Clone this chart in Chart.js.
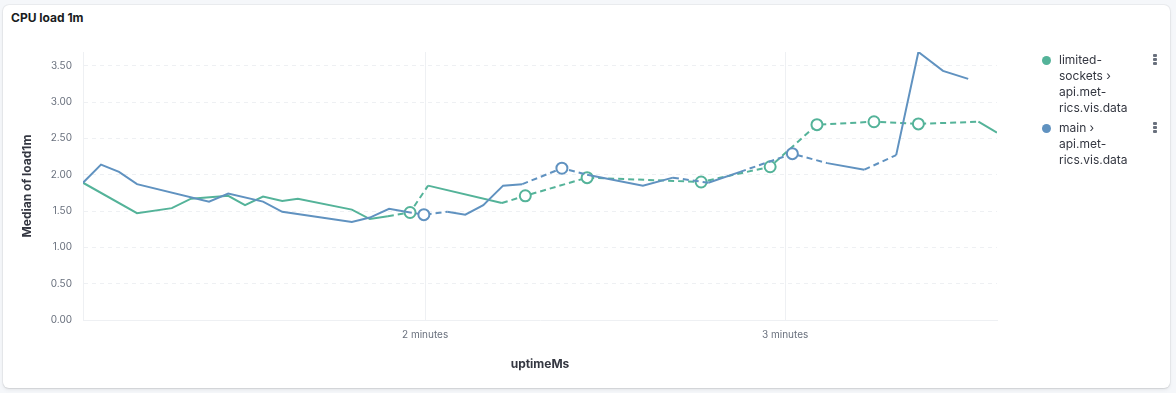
<!DOCTYPE html>
<html>
<head>
<meta charset="utf-8">
<title>CPU load 1m</title>
<script src="https://cdn.jsdelivr.net/npm/chart.js@4.4.0/dist/chart.umd.min.js"></script>
<style>
  html, body { margin: 0; padding: 0; }
  body {
    width: 1176px; height: 393px; overflow: hidden; position: relative;
    background: #f5f7fa; font-family: Inter, "Noto Sans", sans-serif;
  }
  .panel {
    position: absolute; left: 3px; top: 5px; width: 1167px; height: 383px;
    background: #fff; border-radius: 6px;
    box-shadow: 0 0.8px 1.5px rgba(0,0,0,.08), 0 2px 4px rgba(0,0,0,.06), 0 0 0 1px rgba(0,0,0,.03);
  }
  .title { position: absolute; left: 11px; top: 10px; font-size: 12px; font-weight: 700; color: #1a1c21; }
  #chart { position: absolute; left: 0; top: 0; }
  .item { position: absolute; left: 1042px; font-size: 12px; line-height: 16px; color: #343741; }
  .item .dot { position: absolute; left: 0; top: 4px; width: 9px; height: 9px; border-radius: 50%; }
  .item .txt { position: absolute; left: 17px; top: 0; width: 90px; }
  .menu { position: absolute; left: 1153px; width: 4px; }
  .menu i { display: block; width: 4px; height: 3px; margin-bottom: 1px; border-radius: 1px; background: #69707d; }
</style>
</head>
<body>
<div class="panel"></div>
<div class="title">CPU load 1m</div>
<canvas id="chart" width="1176" height="393"></canvas>

<div class="item" style="top:52px">
  <span class="dot" style="background:#54b399"></span>
  <div class="txt">limited-<br>sockets ›<br>api.met-<br>rics.vis.data</div>
</div>
<div class="menu" style="top:54px"><i></i><i></i><i></i></div>
<div class="item" style="top:120px">
  <span class="dot" style="background:#6092c0"></span>
  <div class="txt">main ›<br>api.met-<br>rics.vis.data</div>
</div>
<div class="menu" style="top:122px"><i></i><i></i><i></i></div>

<script>
// axis ticks
const xTickValues = [120000, 180000];
const xTickLabels = ['2 minutes', '3 minutes'];
const yTickValues = [0, 0.5, 1, 1.5, 2, 2.5, 3, 3.5];

// uptime in ms and median load; null = empty bucket (bridged by a dashed line)
const limitedMs = [63000, 72000, 77800, 81000, 87200, 90000, 93000, 96200, 98800, 107800, 110800, 113800,
  null, 117500, null, 120500, 132800, null, 136700, null, 147000, null, 166000, null, 177500,
  null, 185300, null, 194800, null, 202200, null, 212200, 215300];
const limitedLoad = [1.89, 1.47, 1.54, 1.67, 1.71, 1.58, 1.70, 1.64, 1.67, 1.52, 1.39, 1.43,
  null, 1.48, null, 1.85, 1.61, null, 1.71, null, 1.96, null, 1.90, null, 2.11,
  null, 2.69, null, 2.73, null, 2.70, null, 2.73, 2.58];

const mainMs = [63000, 66000, 69000, 72000, 84000, 87200, 93000, 96200, 107800, 110800, 114000, 116800,
  null, 119800, null, 123700, 126700, 129700, 133000, 136200, null, 142800, null,
  147000, 156300, 161300, null, 167200, 172500, null, 181200, null, 187000, 193200,
  null, 198500, 202200, 206300, 210500];
const mainLoad = [1.89, 2.14, 2.04, 1.87, 1.63, 1.74, 1.63, 1.49, 1.35, 1.41, 1.53, 1.49,
  null, 1.45, null, 1.49, 1.45, 1.58, 1.85, 1.87, null, 2.09, null,
  2.00, 1.85, 1.96, null, 1.89, 2.04, null, 2.29, null, 2.16, 2.07,
  null, 2.27, 3.69, 3.43, 3.32];

const GREEN = '#54b399';
const BLUE = '#6092c0';
const GRID = '#eef0f3';

function toPoints(ms, load) {
  return ms.map(function (x, i) { return { x: x, y: load[i] }; });
}

// a point with empty buckets on both sides gets a hollow circle
function isolated(ctx) {
  if (ctx.dataIndex === undefined) return false;
  var d = ctx.dataset.data, i = ctx.dataIndex;
  if (d[i].y === null) return false;
  var prevGap = i === 0 || d[i - 1].y === null;
  var nextGap = i === d.length - 1 || d[i + 1].y === null;
  return prevGap && nextGap;
}

function series(label, ms, load, color, order) {
  return {
    label: label,
    data: toPoints(ms, load),
    order: order,
    borderColor: color,
    borderWidth: 2,
    tension: 0,
    spanGaps: true,
    pointRadius: function (ctx) { return isolated(ctx) ? 5.5 : 0; },
    pointBorderWidth: 2,
    pointBorderColor: color,
    pointBackgroundColor: '#fff',
    pointHoverRadius: 0,
    segment: {
      borderDash: function (ctx) { return ctx.p0.skip || ctx.p1.skip ? [6, 4] : undefined; }
    }
  };
}

const allX = limitedMs.concat(mainMs).filter(function (v) { return v !== null; });
const allY = limitedLoad.concat(mainLoad).filter(function (v) { return v !== null; });

Chart.defaults.font.family = 'Inter';

new Chart(document.getElementById('chart').getContext('2d'), {
  type: 'line',
  data: {
    datasets: [
      series('limited-sockets › api.metrics.vis.data', limitedMs, limitedLoad, GREEN, 1),
      series('main › api.metrics.vis.data', mainMs, mainLoad, BLUE, 0)
    ]
  },
  options: {
    responsive: false,
    animation: false,
    devicePixelRatio: 1,
    layout: { padding: { left: 0, top: 52, right: 179, bottom: 0 } },
    plugins: { legend: { display: false }, tooltip: { enabled: false } },
    events: [],
    scales: {
      x: {
        type: 'linear',
        min: Math.min.apply(null, allX),
        max: Math.max.apply(null, allX),
        afterBuildTicks: function (scale) {
          scale.ticks = xTickValues.map(function (v) { return { value: v }; });
        },
        afterFit: function (scale) { scale.height = 73; },
        grid: { color: GRID, drawTicks: false, lineWidth: 1 },
        border: { display: true, color: GRID },
        ticks: {
          padding: 9,
          color: '#69707d',
          font: { size: 10 },
          maxRotation: 0,
          callback: function (v) { return xTickLabels[xTickValues.indexOf(v)]; }
        },
        title: {
          display: true,
          text: 'uptimeMs',
          color: '#343741',
          font: { size: 12, weight: 'bold' },
          padding: { top: 0, bottom: 21 }
        }
      },
      y: {
        min: 0,
        max: Math.max.apply(null, allY),
        afterBuildTicks: function (scale) {
          scale.ticks = yTickValues.map(function (v) { return { value: v }; });
        },
        afterFit: function (scale) { scale.width = 83; },
        grid: {
          drawTicks: false,
          color: function (ctx) { return ctx.tick && ctx.tick.value === 0 ? 'rgba(0,0,0,0)' : GRID; }
        },
        border: { display: true, color: GRID, dash: [4, 4] },
        ticks: {
          padding: 11,
          color: '#69707d',
          font: { size: 10 },
          callback: function (v) { return v.toFixed(2); }
        },
        title: {
          display: true,
          text: 'Median of load1m',
          color: '#343741',
          font: { size: 12, weight: 'bold' },
          padding: { top: 20, bottom: 0 }
        }
      }
    }
  }
});
</script>
</body>
</html>
